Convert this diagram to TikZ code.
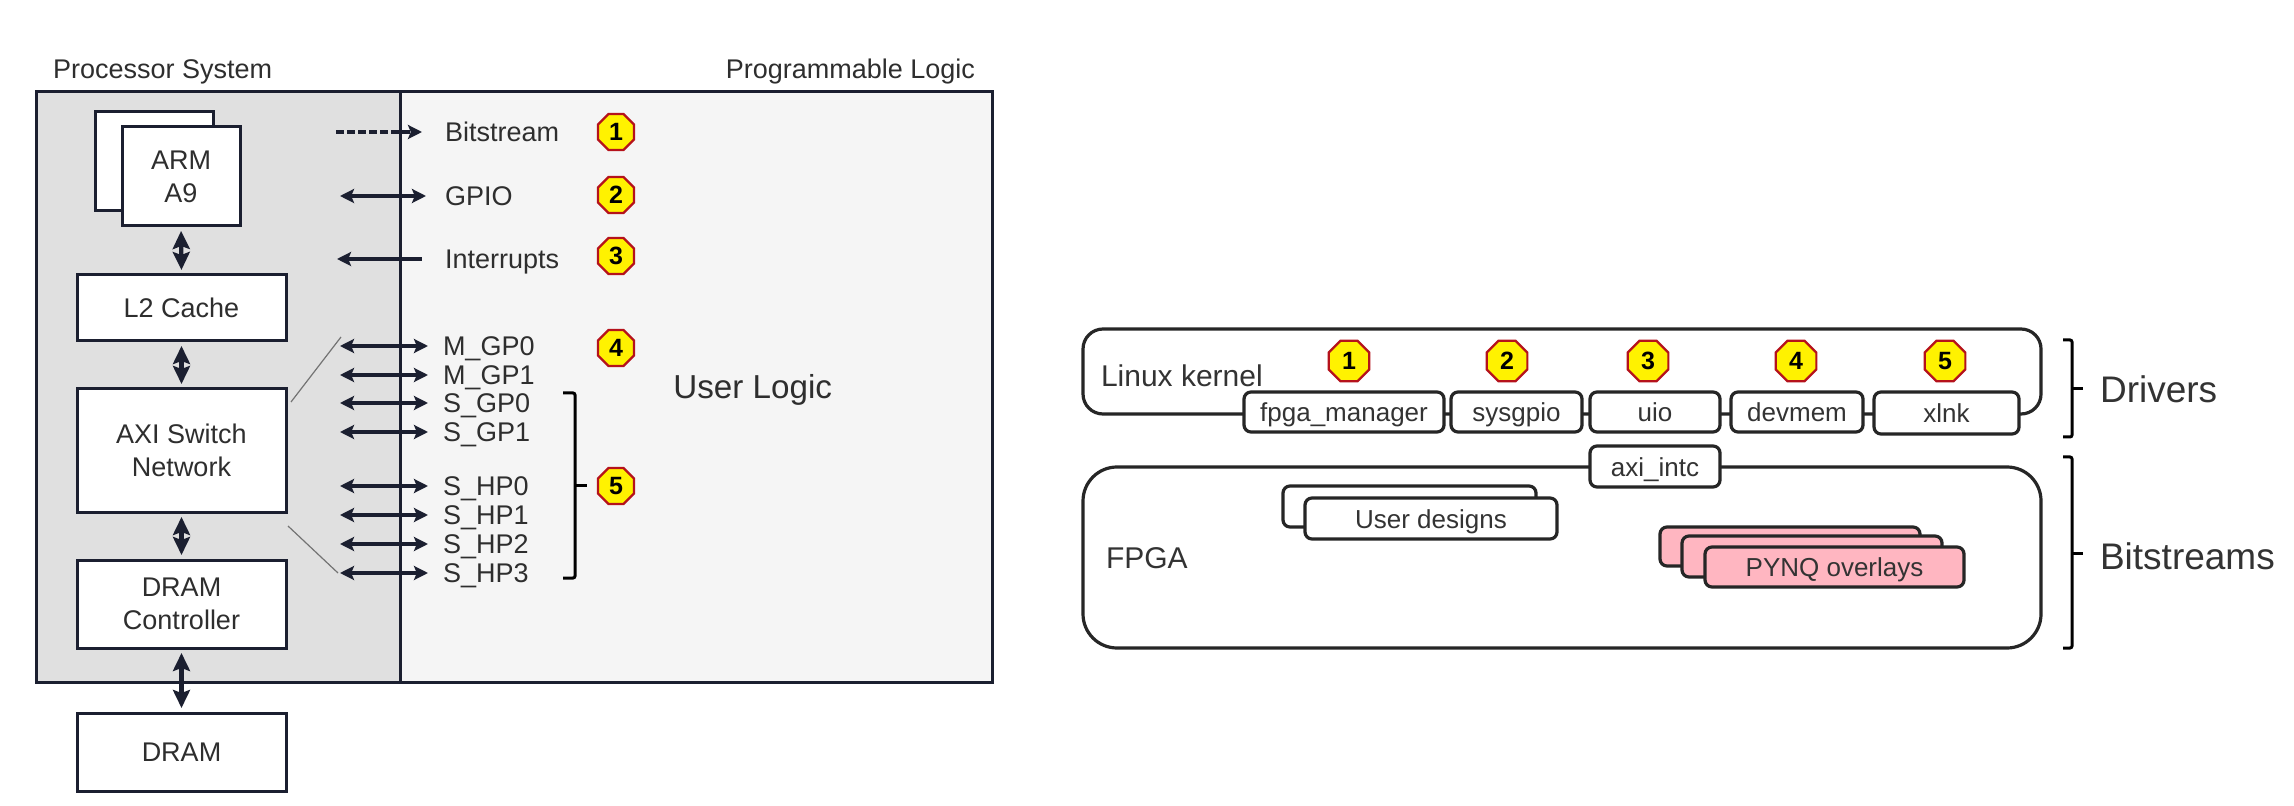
\documentclass[tikz,border=0pt]{standalone}
\usepackage{fontspec}
\setmainfont{Liberation Sans}
\usetikzlibrary{arrows.meta,shapes.geometric}
\definecolor{ink}{HTML}{1B1F30}
\definecolor{txt}{HTML}{2E2E2E}
\definecolor{psgrey}{HTML}{E0E0E0}
\definecolor{plgrey}{HTML}{F5F5F5}
\definecolor{pink}{HTML}{FFB6C1}
\definecolor{badge}{HTML}{B5121B}
\newcommand{\fsize}[1]{\fontsize{#1}{16.5pt}\selectfont}
\tikzset{
  wh/.style 2 args={minimum width=#1*0.5pt, minimum height=#2*0.5pt},
  lbox/.style={draw=ink, line width=1.5pt, fill=white, inner sep=0pt, outer sep=0pt, text=txt, align=center, font=\fsize{13.5pt}},
  rbox/.style={draw=black!85, line width=1.6pt, fill=white, rounded corners=3.5pt, inner sep=0pt, outer sep=0pt, text=black!80, font=\fsize{13pt}, text height=9.5pt, text depth=0pt},
  pbox/.style={rbox, fill=pink},
  big/.style={draw=black!85, line width=1.6pt, fill=white, inner sep=0pt, outer sep=0pt},
  lbl/.style={inner sep=0pt, outer sep=0pt, anchor=west, text=txt, font=\fsize{13.5pt}, text height=9.7pt, text depth=0pt},
  head/.style={inner sep=0pt, outer sep=0pt, text=txt, font=\fsize{13.5pt}, text height=9.7pt, text depth=0pt},
  rtxt/.style 2 args={inner sep=0pt, outer sep=0pt, anchor=west, text=black!80, font=\fsize{#1}, text height=#2, text depth=0pt},
  octo/.style={regular polygon, regular polygon sides=8, draw=badge, line width=1.1pt, fill=yellow, inner sep=0pt, outer sep=0pt, text=black, font=\bfseries\fsize{12.5pt}},
  octoL/.style={octo, minimum size=19.5pt},
  octoR/.style={octo, minimum size=22pt},
  busH/.style={draw=ink, line width=1.6pt, {Stealth[length=7pt,width=7pt,inset=1.4pt]}-{Stealth[length=7pt,width=7pt,inset=1.4pt]}},
  oneR/.style={draw=ink, line width=1.6pt, -{Stealth[length=7pt,width=7pt,inset=1.4pt]}},
  oneL/.style={draw=ink, line width=1.6pt, {Stealth[length=7pt,width=7pt,inset=1.4pt]}-},
  busV/.style={draw=ink, line width=2.2pt, {Stealth[length=9pt,width=8.5pt,inset=1.5pt]}-{Stealth[length=9pt,width=8.5pt,inset=1.5pt]}, shorten <=2.5pt, shorten >=2.5pt},
  zoomline/.style={draw=black!55, line width=0.6pt},
  brk/.style={draw=black, line width=1.5pt, rounded corners=1pt}
}
\begin{document}
\begin{tikzpicture}[x=0.5pt,y=-0.5pt]
\useasboundingbox (0,0) rectangle (2294,806);
\fill[white] (0,0) rectangle (2294,806);

% ---- left: Zynq block diagram
\fill[psgrey] (36,92) rectangle (400,682);
\fill[plgrey] (400,92) rectangle (992,682);
\draw[ink,line width=1.5pt] (36,92) rectangle (992,682);
\draw[ink,line width=1.5pt] (400,92) -- (400,682);

\node[head,anchor=west] (ps) at (53,69) {Processor System};
\node[head,anchor=east] (pl) at (975,69) {Programmable Logic};
\node[inner sep=0pt,text=txt,font=\fsize{16.6pt},text height=11.9pt,text depth=0pt,anchor=west] (ul) at (673,387) {User Logic};

\node[lbox,wh={118}{99}] (armb) at (154,161.5) {};
\node[lbox,wh={118}{99}] (arm) at (181,176.5) {ARM\\A9};
\node[lbox,wh={209}{66}] (l2) at (181.5,308) {L2 Cache};
\node[lbox,wh={209}{123}] (axi) at (181.5,450.5) {AXI Switch\\Network};
\node[lbox,wh={209}{88}] (dc) at (181.5,604) {DRAM\\Controller};
\node[lbox,wh={209}{78}] (dram) at (181.5,752) {DRAM};

\draw[busV] (arm.south) -- (l2.north);
\draw[busV] (l2.south) -- (axi.north);
\draw[busV] (axi.south) -- (dc.north);
\draw[busV] (dc.south) -- (dram.north);

% port labels and arrows
\node[lbl] (bs) at (445,132) {Bitstream};
\node[lbl] (gpio) at (445,196) {GPIO};
\node[lbl] (irq) at (445,259) {Interrupts};
\coordinate (bsf) at (336,132);
\coordinate (gpiof) at (340,196);
\coordinate (irqf) at (337,259);
\draw[oneR,dash pattern=on 4pt off 1.5pt,shorten >=11.5pt] (bsf) -- (bs.west);
\draw[busH,shorten >=9.5pt] (gpiof) -- (gpio.west);
\draw[oneL,shorten >=11.5pt] (irqf) -- (irq.west);

\foreach \yy/\lab/\nm in {346/M\_GP0/mgpa,375/M\_GP1/mgpb,403/S\_GP0/sgpa,432/S\_GP1/sgpb,486/S\_HP0/shpa,515/S\_HP1/shpb,544/S\_HP2/shpc,573/S\_HP3/shpd}{
  \node[lbl] (\nm) at (443,\yy) {\lab};
  \coordinate (\nm f) at (340,\yy);
  \draw[busH,shorten >=7.5pt] (\nm f) -- (\nm.west);
}

\draw[zoomline] (291,402) -- (341,337);
\draw[zoomline] (288,526) -- (338,573);

\draw[brk] (563,393) -- (575,393) -- (575,578) -- (563,578);
\draw[brk] (575,485) -- (587,485);

\node[octoL] (la) at (616,132) {1};
\node[octoL] (lb) at (616,195) {2};
\node[octoL] (lc) at (616,256) {3};
\node[octoL] (ld) at (616,348) {4};
\node[octoL] (le) at (616,486) {5};

% ---- right: PYNQ stack
\node[big,rounded corners=10pt,wh={958}{85}] (linux) at (1562,371.5) {};
\node[big,rounded corners=17pt,wh={958}{181}] (fpga) at (1562,557.5) {};
\node[rtxt={15pt}{10.7pt}] (lk) at (1101,376) {Linux kernel};
\node[rtxt={15pt}{10.7pt}] (fp) at (1106,558) {FPGA};

\node[rbox,wh={200}{40}] (fm) at (1344,412) {fpga\_manager};
\node[rbox,wh={131}{40}] (sg) at (1516.5,412) {sysgpio};
\node[rbox,wh={130}{40}] (ui) at (1655,412) {uio};
\node[rbox,wh={132}{40}] (dm) at (1797,412) {devmem};
\node[rbox,wh={145}{42}] (xl) at (1946.5,413) {xlnk};
\node[rbox,wh={130}{41}] (ax) at (1655,466.5) {axi\_intc};

\node[rbox,wh={253}{41}] (uda) at (1409.5,506.5) {};
\node[rbox,wh={252}{41}] (udb) at (1431,518.5) {User designs};
\node[pbox,wh={260}{39}] (pa) at (1790,546.5) {};
\node[pbox,wh={260}{41}] (pb) at (1812,556.5) {};
\node[pbox,wh={259}{40}] (pc) at (1834.5,567) {PYNQ overlays};

\node[octoR] (ra) at (1349,361) {1};
\node[octoR] (rb) at (1507,361) {2};
\node[octoR] (rc) at (1648,361) {3};
\node[octoR] (rd) at (1796,361) {4};
\node[octoR] (re) at (1945,361) {5};

\draw[brk] (2063,340) -- (2072,340) -- (2072,437) -- (2063,437);
\draw[brk] (2072,389) -- (2083,389);
\draw[brk] (2063,457) -- (2072,457) -- (2072,648) -- (2063,648);
\draw[brk] (2072,553) -- (2083,553);
\node[rtxt={18.5pt}{13.2pt}] (dr) at (2100,389) {Drivers};
\node[rtxt={18.5pt}{13.2pt}] (bt) at (2100,556) {Bitstreams};
\end{tikzpicture}
\end{document}
